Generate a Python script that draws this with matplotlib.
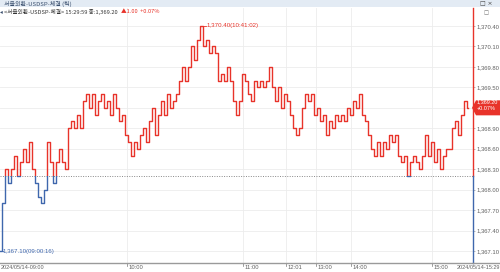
import matplotlib
matplotlib.use("Agg")
import matplotlib.pyplot as plt
import matplotlib.transforms as mtransforms
from matplotlib.patches import Rectangle, Polygon
import numpy as np

# ---------------- data ----------------
prices = [
    1367.10, 1367.80, 1368.30, 1368.10, 1368.30, 1368.50, 1368.20, 1368.40, 1368.60, 1368.40,
    1368.70, 1368.30, 1368.10, 1367.90, 1367.80, 1368.00, 1368.70, 1368.40, 1368.10, 1368.40,
    1368.60, 1368.40, 1368.30, 1368.90, 1369.00, 1368.90, 1369.10, 1368.90, 1369.30, 1369.40,
    1369.20, 1369.40, 1369.10, 1369.30, 1369.40, 1369.20, 1369.30, 1369.10, 1369.40, 1369.20,
    1369.00, 1369.10, 1368.80, 1368.70, 1368.50, 1368.70, 1368.60, 1368.80, 1368.90, 1368.70,
    1369.00, 1369.20, 1368.80, 1369.10, 1369.30, 1369.10, 1369.40, 1369.20, 1369.30, 1369.40,
    1369.60, 1369.80, 1369.60, 1369.80, 1370.10, 1369.90, 1370.20, 1370.40, 1370.10, 1370.20,
    1370.00, 1370.10, 1370.00, 1369.60, 1369.70, 1369.60, 1369.80, 1369.60, 1369.30, 1369.10,
    1369.30, 1369.70, 1369.60, 1369.40, 1369.30, 1369.60, 1369.50, 1369.60, 1369.50, 1369.60,
    1369.80, 1369.50, 1369.30, 1369.50, 1369.20, 1369.40, 1369.30, 1369.10, 1368.90, 1368.80,
    1368.90, 1369.20, 1369.40, 1369.30, 1369.40, 1369.10, 1369.20, 1369.00, 1369.10, 1368.80,
    1369.00, 1368.90, 1369.10, 1369.00, 1369.10, 1369.00, 1369.20, 1369.10, 1369.30, 1369.20,
    1369.40, 1369.10, 1369.00, 1368.80, 1368.60, 1368.50, 1368.70, 1368.50, 1368.70, 1368.60,
    1368.80, 1368.70, 1368.80, 1368.50, 1368.40, 1368.50, 1368.20, 1368.40, 1368.50, 1368.40,
    1368.30, 1368.50, 1368.80, 1368.50, 1368.70, 1368.40, 1368.60, 1368.30, 1368.50, 1368.60,
    1368.60, 1368.90, 1369.00, 1368.80, 1369.10, 1369.30, 1369.20,
]
prev_close = 1368.20
last_price = 1369.20
high_price, high_time = 1370.40, "10:41:02"
low_price, low_time = 1367.10, "09:00:16"
time_labels = ["10:00", "11:00", "12:01", "13:00", "14:00", "15:00"]
time_label_idx = [42.3, 81.0, 95.3, 105.3, 117.0, 144.0]
start_label = "2024/05/14-09:00"
end_label = "2024/05/14-15:29"
y_ticks = [1367.10, 1367.40, 1367.70, 1368.00, 1368.30, 1368.60,
           1368.90, 1369.20, 1369.50, 1369.80, 1370.10, 1370.40]
title_text = "서울외환-USDSP-체결 (틱)"
header_text = "<서울외환-USDSP-체결> 15:29:59 종:1,369.20"
change_text = "▲1.00  +0.07%"
pct_text = "+0.07%"

# ---------------- style ----------------
RED = "#e8332a"
BLUE = "#3f67ad"
GRAY = "#606060"
KR = ["Noto Sans CJK KR", "DejaVu Sans"]
NUM = ["Liberation Sans", "DejaVu Sans"]

W, H = 500, 272
fig = plt.figure(figsize=(W / 100, H / 100), dpi=100)
fig.patch.set_facecolor("white")

ax_left, ax_right = 0, 473
ax_top, ax_bot = 8, 263
ax = fig.add_axes([ax_left / W, (H - ax_bot) / H, (ax_right - ax_left) / W, (ax_bot - ax_top) / H])
ax.set_facecolor("white")

px_per_unit = 68.2
ymax = 1370.40 + (26 - ax_top) / px_per_unit
ymin = 1370.40 - (ax_bot - 26) / px_per_unit
xmax = (ax_right - ax_left) / 3.0
ax.set_xlim(0, xmax)
ax.set_ylim(ymin, ymax)

x = np.arange(len(prices))

# gridlines
for yt in y_ticks:
    ax.axhline(yt, color="#ececec", lw=0.6, zorder=0)
for xi in time_label_idx:
    ax.axvline(xi, color="#ececec", lw=0.6, zorder=0)

# previous close dotted line
ax.axhline(prev_close, color="#888888", lw=0.7, ls=(0, (1, 1.5)), zorder=1)

# price line split in colours
red_line, = ax.plot(x, prices, drawstyle="steps-mid", color=RED, lw=1.0, zorder=3)
blue_line, = ax.plot(x, prices, drawstyle="steps-mid", color=BLUE, lw=1.0, zorder=3)
clip_up = Rectangle((-5, prev_close), xmax + 10, 10, transform=ax.transData)
clip_dn = Rectangle((-5, prev_close - 10), xmax + 10, 10, transform=ax.transData)
red_line.set_clip_path(clip_up)
blue_line.set_clip_path(clip_dn)

# spines
for s in ["left", "top", "right"]:
    ax.spines[s].set_visible(False)
ax.spines["bottom"].set_color("#9a9a9a")
ax.spines["bottom"].set_linewidth(1.0)
fig.add_artist(plt.Line2D([ax_right / W, 1], [(H - ax_bot) / H] * 2, color="#9a9a9a",
                          lw=1.0, transform=fig.transFigure))

# right axis line: red above prev close, blue below
ax.plot([xmax, xmax], [prev_close, ymax], color=RED, lw=1.0, clip_on=False, zorder=4)
ax.plot([xmax, xmax], [ymin, prev_close], color=BLUE, lw=1.0, clip_on=False, zorder=4)

# y ticks on the right (label under the price box is covered by the box)
ax.yaxis.tick_right()
ax.set_yticks(y_ticks)
ax.set_yticklabels(["" if abs(v - last_price) < 1e-6 else f"{v:,.2f}" for v in y_ticks],
                   fontsize=4.2, color=GRAY, family=NUM)
ax.tick_params(axis="y", length=1.5, width=0.5, color="#999999", pad=1.2)

# x ticks
ax.set_xticks([])
trans_x = mtransforms.blended_transform_factory(ax.transData, fig.transFigure)
ylab = (H - 267.5) / H
ytk0, ytk1 = (H - ax_bot) / H, (H - ax_bot - 2.5) / H
for xi, lab in zip(time_label_idx, time_labels):
    ax.plot([xi, xi], [ytk0, ytk1], color="#777777", lw=0.5, transform=trans_x, clip_on=False)
    ax.text(xi + 0.5, ylab, lab, transform=trans_x, fontsize=4.2, color=GRAY,
            ha="left", va="center", family=NUM)
ax.text(0.1, ylab, start_label, transform=trans_x, fontsize=4.0, color=GRAY,
        ha="left", va="center", family=NUM, clip_on=False)
ax.text(1.0, ylab, end_label, transform=mtransforms.blended_transform_factory(fig.transFigure, fig.transFigure),
        fontsize=4.0, color=GRAY, ha="right", va="center", family=NUM, clip_on=False)

# high / low annotations
hi_idx = prices.index(high_price)
ax.plot([hi_idx, hi_idx + 1.6], [high_price, high_price], color=RED, lw=0.6, zorder=4)
ax.text(hi_idx + 1.7, high_price, f"{high_price:,.2f}({high_time})", fontsize=4.4, color=RED,
        ha="left", va="center", family=NUM)
lo_idx = prices.index(low_price)
ax.plot([lo_idx, lo_idx + 0.9], [low_price, low_price], color=BLUE, lw=0.6, zorder=4)
ax.text(lo_idx + 1.0, low_price, f"{low_price:,.2f}({low_time})", fontsize=4.4, color=BLUE,
        ha="left", va="center", family=NUM)

# last price box on the right axis
bt = mtransforms.blended_transform_factory(fig.transFigure, ax.transData)
bh = 7.5 / px_per_unit
x0, x1, xp = 476 / W, 500 / W, 472 / W
box = Polygon([[xp, last_price], [x0, last_price + bh], [x1, last_price + bh],
               [x1, last_price - bh], [x0, last_price - bh]], closed=True,
              facecolor=RED, edgecolor="none", transform=bt, zorder=6, clip_on=False)
fig.add_artist(box)
fig.text(477 / W, (H - 102) / H, f"{last_price:,.2f}", fontsize=4.0, color="white",
         ha="left", va="center", family=NUM, zorder=7)
fig.text(477 / W, (H - 108.5) / H, pct_text, fontsize=4.0, color="white",
         ha="left", va="center", family=NUM, zorder=7)

# title bar
fig.add_artist(Rectangle((0, (H - 7) / H), 1, 7 / H, transform=fig.transFigure,
                         facecolor="#e3ebf4", edgecolor="none", zorder=0))
fig.text(4 / W, (H - 3.5) / H, title_text, fontsize=4.3, color="#3a4f6e",
         ha="left", va="center", family=KR)
fig.text(480 / W, (H - 3.5) / H, "□ ×", fontsize=4.3, color="#444444",
         ha="left", va="center", family=["DejaVu Sans"])
fig.text(484 / W, (H - 12.5) / H, "□", fontsize=3.8, color="#666666",
         ha="left", va="center", family=["DejaVu Sans"])

# header line
fig.text(0 / W, (H - 11.5) / H, "◂", fontsize=4.0, color="#3a4f6e",
         ha="left", va="center", family=["DejaVu Sans"])
t1 = fig.text(4 / W, (H - 11.5) / H, header_text, fontsize=4.1, color="#333333",
              ha="left", va="center", family=KR)
fig.canvas.draw()
bb = t1.get_window_extent()
fig.text((bb.x1 + 3) / W, (H - 11.5) / H, change_text, fontsize=4.1, color=RED,
         ha="left", va="center", family=KR)

fig.savefig("out.png", dpi=100, facecolor="white")
